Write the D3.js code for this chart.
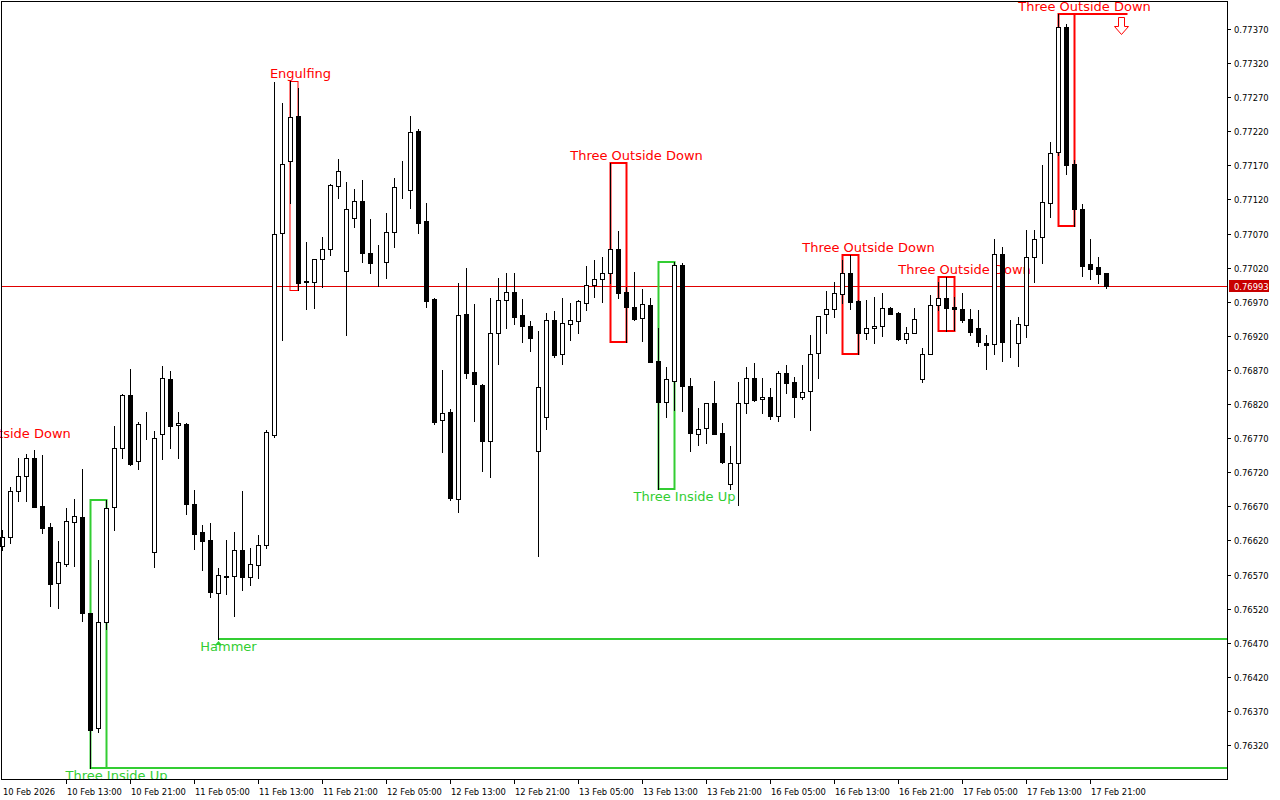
<!DOCTYPE html>
<html>
<head>
<meta charset="utf-8">
<script src="https://cdn.jsdelivr.net/npm/d3@7"></script>
<style>
  body { margin: 0; background: #fff; }
  svg text { font-family: "DejaVu Sans", Verdana, sans-serif; }
  .axis-label { font-size: 8.4px; }
  .pattern-label { font-size: 13px; }
</style>
</head>
<body>
<svg id="chart" width="1280" height="800"></svg>
<script>
// H1 candles, bar 0 = 10 Feb 05:00, bar 138 = 17 Feb 23:00
var opens = [0.76612,0.76625,0.76692,0.76714,0.76741,0.76670,0.76640,0.76558,0.76585,0.76647,
  0.76654,0.76514,0.76345,0.76500,0.76669,0.76756,0.76833,0.76736,0.76791,0.76603,
  0.76776,0.76857,0.76789,0.76791,0.76673,0.76632,0.76621,0.76543,0.76568,0.76568,
  0.76606,0.76566,0.76584,0.76613,0.76775,0.77071,0.77176,0.77242,0.77000,0.76999,
  0.77033,0.77047,0.77140,0.77015,0.77093,0.77118,0.77041,0.77028,0.77028,0.77072,
  0.77135,0.77134,0.77220,0.77088,0.76974,0.76797,0.76808,0.76681,0.76952,0.76867,
  0.76848,0.76766,0.76924,0.76973,0.76984,0.76951,0.76934,0.76751,0.76801,0.76943,
  0.76893,0.76937,0.76942,0.76968,0.76995,0.77003,0.77012,0.77047,0.76984,0.76962,
  0.76946,0.76965,0.76883,0.76823,0.76854,0.77024,0.76846,0.76776,0.76785,0.76822,
  0.76778,0.76703,0.76734,0.76822,0.76858,0.76827,0.76830,0.76802,0.76865,0.76852,
  0.76830,0.76839,0.76895,0.76952,0.76959,0.76981,0.77012,0.76971,0.76924,0.76932,
  0.76934,0.76961,0.76953,0.76915,0.76924,0.76857,0.76893,0.76965,0.76975,0.76962,
  0.76959,0.76945,0.76932,0.76910,0.76908,0.77040,0.76911,0.76910,0.76936,0.77036,
  0.77065,0.77115,0.77190,0.77373,0.77172,0.77106,0.77025,0.77021,0.77012];
var highs = [0.76635,0.76698,0.76741,0.76747,0.76753,0.76745,0.76646,0.76619,0.76668,0.76681,
  0.76725,0.76514,0.76591,0.76679,0.76788,0.76835,0.76871,0.76794,0.76808,0.76780,
  0.76876,0.76868,0.76808,0.76792,0.76694,0.76643,0.76646,0.76580,0.76621,0.76632,
  0.76692,0.76609,0.76628,0.76782,0.77292,0.77261,0.77294,0.77283,0.77058,0.77033,
  0.77065,0.77143,0.77179,0.77146,0.77135,0.77149,0.77091,0.77053,0.77100,0.77151,
  0.77176,0.77242,0.77223,0.77115,0.76975,0.76870,0.76813,0.76997,0.77019,0.76967,
  0.76849,0.76975,0.77005,0.77012,0.77012,0.76974,0.76942,0.76927,0.76953,0.76956,
  0.76975,0.76968,0.76973,0.77022,0.77031,0.77036,0.77173,0.77074,0.76992,0.77014,
  0.76989,0.76975,0.76932,0.76874,0.77028,0.77027,0.76858,0.76814,0.76822,0.76854,
  0.76792,0.76758,0.76852,0.76874,0.76880,0.76858,0.76844,0.76868,0.76877,0.76860,
  0.76877,0.76921,0.76949,0.76986,0.76999,0.77031,0.77039,0.76973,0.76973,0.76977,
  0.76983,0.76962,0.76955,0.76933,0.76961,0.76902,0.76980,0.76999,0.77006,0.76977,
  0.76983,0.76959,0.76958,0.76921,0.77062,0.77050,0.76943,0.76948,0.77075,0.77075,
  0.77171,0.77204,0.77392,0.77377,0.77178,0.77113,0.77062,0.77036,0.77012];
var lows = [0.76606,0.76616,0.76678,0.76678,0.76669,0.76631,0.76524,0.76521,0.76582,0.76582,
  0.76502,0.76286,0.76339,0.76490,0.76635,0.76741,0.76731,0.76725,0.76769,0.76581,
  0.76739,0.76756,0.76741,0.76659,0.76607,0.76577,0.76537,0.76475,0.76541,0.76509,
  0.76547,0.76555,0.76565,0.76609,0.76772,0.76914,0.77115,0.76987,0.76959,0.76961,
  0.76992,0.77039,0.77122,0.76921,0.77080,0.77028,0.77012,0.76993,0.77005,0.77050,
  0.77122,0.77107,0.77071,0.76962,0.76791,0.76750,0.76679,0.76662,0.76858,0.76795,
  0.76722,0.76713,0.76879,0.76932,0.76937,0.76911,0.76898,0.76597,0.76783,0.76889,
  0.76879,0.76914,0.76924,0.76958,0.76977,0.76970,0.76997,0.76975,0.76911,0.76943,
  0.76912,0.76882,0.76695,0.76801,0.76811,0.76810,0.76751,0.76760,0.76763,0.76776,
  0.76734,0.76695,0.76672,0.76807,0.76824,0.76807,0.76798,0.76795,0.76836,0.76801,
  0.76827,0.76782,0.76858,0.76924,0.76948,0.76968,0.76959,0.76893,0.76915,0.76910,
  0.76920,0.76952,0.76914,0.76910,0.76924,0.76852,0.76893,0.76958,0.76927,0.76929,
  0.76940,0.76921,0.76905,0.76871,0.76893,0.76883,0.76889,0.76876,0.76918,0.76999,
  0.77027,0.77094,0.77185,0.77157,0.77081,0.77008,0.77003,0.76997,0.76990];
var closes = [0.76625,0.76692,0.76714,0.76741,0.76669,0.76638,0.76556,0.76588,0.76648,0.76656,
  0.76514,0.76342,0.76500,0.76668,0.76756,0.76833,0.76732,0.76791,0.76791,0.76770,
  0.76858,0.76788,0.76792,0.76673,0.76629,0.76619,0.76544,0.76569,0.76566,0.76606,
  0.76566,0.76585,0.76613,0.76779,0.77069,0.77172,0.77241,0.76997,0.76999,0.77033,
  0.77047,0.77141,0.77162,0.77106,0.77118,0.77041,0.77027,0.77028,0.77072,0.77138,
  0.77135,0.77219,0.77085,0.76971,0.76794,0.76807,0.76682,0.76951,0.76865,0.76849,
  0.76766,0.76924,0.76973,0.76984,0.76948,0.76934,0.76917,0.76845,0.76943,0.76892,
  0.76939,0.76943,0.76971,0.76995,0.77003,0.77012,0.77047,0.76983,0.76962,0.76945,
  0.76967,0.76882,0.76823,0.76857,0.77024,0.76846,0.76778,0.76783,0.76822,0.76776,
  0.76735,0.76734,0.76822,0.76858,0.76826,0.76830,0.76802,0.76865,0.76851,0.76830,
  0.76838,0.76893,0.76949,0.76959,0.76983,0.77012,0.76970,0.76924,0.76932,0.76934,
  0.76961,0.76952,0.76915,0.76924,0.76945,0.76893,0.76965,0.76975,0.76961,0.76959,
  0.76943,0.76926,0.76911,0.76907,0.77040,0.76911,0.76911,0.76937,0.77036,0.77062,
  0.77116,0.77188,0.77373,0.77171,0.77106,0.77022,0.77018,0.77011,0.76993];

// time axis
var tickBars = [0, 8, 16, 24, 32, 40, 48, 56, 64, 72, 80, 88, 96, 104, 112, 120, 128, 136];
var tickLabels = ["10 Feb 2026", "10 Feb 13:00", "10 Feb 21:00", "11 Feb 05:00", "11 Feb 13:00",
  "11 Feb 21:00", "12 Feb 05:00", "12 Feb 13:00", "12 Feb 21:00", "13 Feb 05:00", "13 Feb 13:00",
  "13 Feb 21:00", "16 Feb 05:00", "16 Feb 13:00", "16 Feb 21:00", "17 Feb 05:00", "17 Feb 13:00",
  "17 Feb 21:00"];

// price axis
var priceTicks = [0.76320, 0.76370, 0.76420, 0.76470, 0.76520, 0.76570, 0.76620, 0.76670,
  0.76720, 0.76770, 0.76820, 0.76870, 0.76920, 0.76970, 0.77020, 0.77070, 0.77120, 0.77170,
  0.77220, 0.77270, 0.77320, 0.77370];
var lastPrice = 0.76993;

// detected candle patterns (bar ranges)
var patternNames = ["Three Outside Down", "Three Inside Up", "Hammer", "Engulfing", "Three Outside Down",
  "Three Inside Up", "Three Outside Down", "Three Outside Down", "Three Outside Down"];
var patternFrom = [-3, 11, 27, 36, 76, 82, 105, 117, 132];
var patternTo = [-1, 13, 27, 37, 78, 84, 107, 119, 134];
var patternBull = [false, true, true, false, false, true, false, false, false];
var offChartTop = 0.76766;   // high of the pattern that starts left of the window

// lows kept as support levels up to the right edge
var levelBars = [11, 27];

//----------------------------------------------------------------------------------

var svg = d3.select("#chart");
var plot = { left: 2, top: 2, right: 1227, bottom: 779 };

var x = d3.scaleLinear().domain([0, 138]).range([2.5, 1106.5]);
var y = d3.scaleLinear().domain([0.76320, 0.77370]).range([745, 29]);
var py = v => Math.round(y(v)) + 0.5;

var red = "#ff0000";
var green = "#32cd32";

svg.append("defs").append("clipPath").attr("id", "plotclip")
  .append("rect")
  .attr("x", 0).attr("y", plot.top)
  .attr("width", plot.right).attr("height", plot.bottom - plot.top);

var g = svg.append("g").attr("clip-path", "url(#plotclip)");

// current price line
g.append("line")
  .attr("x1", plot.left).attr("x2", plot.right)
  .attr("y1", py(lastPrice)).attr("y2", py(lastPrice))
  .attr("stroke", "#e00000").attr("stroke-width", 1);

// support levels
levelBars.forEach(function(b) {
  g.append("line")
    .attr("x1", x(b)).attr("x2", plot.right)
    .attr("y1", Math.round(y(lows[b]))).attr("y2", Math.round(y(lows[b])))
    .attr("stroke", green).attr("stroke-width", 2);
});

// pattern boxes + labels
var labelShift = { "Three Outside Down": 18, "Three Inside Up": 18, "Engulfing": 6, "Hammer": 10 };

patternNames.forEach(function(name, k) {
  var a = patternFrom[k], b = patternTo[k];
  var bars = d3.range(Math.max(a, 0), b + 1);
  var top = bars.length ? d3.max(bars, i => highs[i]) : offChartTop;
  var bottom = bars.length ? d3.min(bars, i => lows[i]) : null;
  var col = patternBull[k] ? green : red;
  var x1 = x(a), x2 = x(b);
  var yt = Math.round(y(top)), yb = bottom !== null ? Math.round(y(bottom)) : null;

  if (a !== b && bars.length) {
    var w = name === "Engulfing" ? 1 : 2;
    var off = w === 1 ? 0.5 : 0;
    g.append("rect")
      .attr("x", x1 - off).attr("y", yt + off)
      .attr("width", x2 - x1).attr("height", yb - yt)
      .attr("fill", "none").attr("stroke", col).attr("stroke-width", w);
  }

  var cx = (x1 + x2) / 2 + labelShift[name];
  g.append("text")
    .attr("class", "pattern-label")
    .attr("x", cx)
    .attr("y", patternBull[k] ? yb + 12 : yt - 3)
    .attr("text-anchor", "middle")
    .attr("fill", col)
    .text(name);

  if (name === "Hammer") {
    g.append("path")
      .attr("d", `M${x1 - 3.5},${yb + 6} L${x1},${yb + 2} L${x1 + 3.5},${yb + 6} Z`)
      .attr("fill", green);
  }

  // latest signal: top line carried forward with a sell arrow
  if (k === patternNames.length - 1) {
    g.append("line")
      .attr("x1", x2).attr("x2", x2 + 53)
      .attr("y1", yt).attr("y2", yt)
      .attr("stroke", col).attr("stroke-width", 2);
    var ax = x2 + 47;
    g.append("path")
      .attr("d", `M${ax - 3},${yt + 3.5} h6 v9 h4 l-7,8 l-7,-8 h4 z`)
      .attr("fill", "#fff").attr("stroke", col).attr("stroke-width", 1);
  }
});

// candles
var idx = d3.range(opens.length);

g.selectAll(".wick")
  .data(idx)
  .enter()
  .append("line")
  .attr("class", "wick")
  .attr("x1", i => x(i)).attr("x2", i => x(i))
  .attr("y1", i => Math.round(y(highs[i]))).attr("y2", i => Math.round(y(lows[i])) + 1)
  .attr("stroke", "#000").attr("stroke-width", 1);

g.selectAll(".body")
  .data(idx)
  .enter()
  .append("rect")
  .attr("class", "body")
  .attr("x", i => x(i) - 2)
  .attr("y", i => Math.round(y(Math.max(opens[i], closes[i]))) + 0.5)
  .attr("width", 4)
  .attr("height", i => Math.round(y(Math.min(opens[i], closes[i]))) - Math.round(y(Math.max(opens[i], closes[i]))))
  .attr("fill", i => closes[i] >= opens[i] ? "#fff" : "#000")
  .attr("stroke", "#000").attr("stroke-width", 1);

// frame
svg.append("rect")
  .attr("x", plot.left - 0.5).attr("y", plot.top - 0.5)
  .attr("width", plot.right - plot.left + 1).attr("height", plot.bottom - plot.top + 1)
  .attr("fill", "none").attr("stroke", "#000");

// price axis
var yAxis = svg.append("g");
priceTicks.forEach(function(p) {
  yAxis.append("line")
    .attr("x1", plot.right + 0.5).attr("x2", plot.right + 4)
    .attr("y1", py(p)).attr("y2", py(p))
    .attr("stroke", "#000");
  yAxis.append("text")
    .attr("class", "axis-label")
    .attr("x", plot.right + 7).attr("y", py(p) + 3.5)
    .text(p.toFixed(5));
});

yAxis.append("rect")
  .attr("x", plot.right + 2).attr("y", py(lastPrice) - 6.5)
  .attr("width", 40).attr("height", 12)
  .attr("fill", "#c80000");
yAxis.append("text")
  .attr("class", "axis-label")
  .attr("x", plot.right + 7).attr("y", py(lastPrice) + 3.5)
  .attr("fill", "#fff")
  .text(lastPrice.toFixed(5));

// time axis
var xAxis = svg.append("g");
tickBars.forEach(function(b, k) {
  if (b > 0) {
    xAxis.append("line")
      .attr("x1", x(b)).attr("x2", x(b))
      .attr("y1", plot.bottom + 0.5).attr("y2", plot.bottom + 5)
      .attr("stroke", "#000");
  }
  xAxis.append("text")
    .attr("class", "axis-label")
    .attr("x", Math.max(x(b), 2.5) + 0.5).attr("y", 795)
    .text(tickLabels[k]);
});
</script>
</body>
</html>
